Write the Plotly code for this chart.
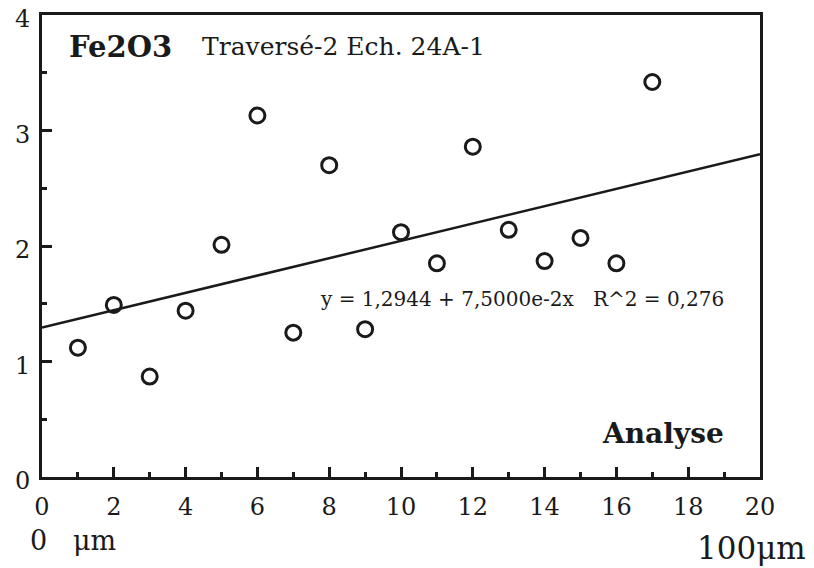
import plotly.graph_objects as go

# Data
x_pos = [1, 2, 3, 4, 5, 6, 7, 8, 9, 10, 11, 12, 13, 14, 15, 16, 17]
fe2o3 = [1.12, 1.49, 0.87, 1.44, 2.01, 3.13, 1.25, 2.70, 1.28, 2.12, 1.85,
         2.86, 2.14, 1.87, 2.07, 1.85, 3.42]

# Regression reported on the chart
intercept = 1.2944
slope = 0.075
r2 = 0.276
fit_x = [0, 20]
fit_y = [intercept + slope * v for v in fit_x]

x_ticks = [0, 2, 4, 6, 8, 10, 12, 14, 16, 18, 20]
y_ticks = [0, 1, 2, 3, 4]

FONT = "DejaVu Serif"
INK = "#1a1a1a"

# the page body adds an 8px offset, so the figure is 8px smaller than the window
OFF = 8
FW, FH = 814 - OFF, 568 - OFF
# plot area in page pixels
L, R, T, B = 42, 760, 15, 477
W, H = R - L, B - T


def px(xp):
    return (xp - L) / W


def py(yp):
    return (B - yp) / H


fig = go.Figure()
fig.add_trace(go.Scatter(x=fit_x, y=fit_y, mode="lines",
                         line=dict(color=INK, width=2.5), showlegend=False,
                         hoverinfo="skip"))
fig.add_trace(go.Scatter(x=x_pos, y=fe2o3, mode="markers",
                         marker=dict(symbol="circle-open", size=15,
                                     color=INK, line=dict(width=3, color=INK)),
                         showlegend=False))

axis_common = dict(showgrid=False, zeroline=False, showline=True, linewidth=3,
                   linecolor=INK, mirror=True, ticks="inside", ticklen=10,
                   tickwidth=2.5, tickcolor=INK, automargin=False,
                   ticklabeloverflow="allow",
                   tickfont=dict(size=24, family=FONT, color=INK))

fig.update_layout(
    width=FW, height=FH,
    margin=dict(l=L - OFF, r=814 - R, t=T - OFF, b=568 - B),
    paper_bgcolor="white", plot_bgcolor="white",
    font=dict(family=FONT, color=INK, size=18),
    xaxis=dict(range=[0, 20], tickvals=x_ticks, ticktext=[str(v) for v in x_ticks],
               minor=dict(dtick=1, ticks="inside", ticklen=5, tickwidth=2.5,
                          tickcolor=INK),
               ticklabelstandoff=6, **axis_common),
    yaxis=dict(range=[0, 4], tickvals=y_ticks, ticktext=[str(v) for v in y_ticks],
               minor=dict(dtick=0.5, ticks="inside", ticklen=5, tickwidth=2.5,
                          tickcolor=INK),
               ticklabelstandoff=4, ticklabelshift=4, **axis_common),
)

eq_text = (f"y = {intercept:.4f}".replace(".", ",") + " + 7,5000e-2x"
           + "&nbsp;&nbsp;&nbsp;R^2 = " + f"{r2:.3f}".replace(".", ","))

fig.add_annotation(xref="paper", yref="paper", x=px(67), y=py(47),
                   text="<b>Fe2O3</b>", showarrow=False, xanchor="left",
                   yanchor="middle", font=dict(size=29, family=FONT))
fig.add_annotation(xref="paper", yref="paper", x=px(200), y=py(47),
                   text="Traversé-2 Ech. 24A-1", showarrow=False,
                   xanchor="left", yanchor="middle", font=dict(size=25, family=FONT))
fig.add_annotation(xref="paper", yref="paper", x=px(318), y=py(299),
                   text=eq_text, showarrow=False, xanchor="left",
                   yanchor="middle", font=dict(size=20, family=FONT))
fig.add_annotation(xref="paper", yref="paper", x=px(726), y=py(433),
                   text="<b>Analyse</b>", showarrow=False, xanchor="right",
                   yanchor="middle", font=dict(size=28, family=FONT))
fig.add_annotation(xref="paper", yref="paper", x=px(28), y=py(540),
                   text="0&nbsp;&nbsp;&nbsp;μm", showarrow=False, xanchor="left",
                   yanchor="middle", font=dict(size=27, family=FONT))
fig.add_annotation(xref="paper", yref="paper", x=px(808), y=py(548),
                   text="100μm", showarrow=False, xanchor="right",
                   yanchor="middle", font=dict(size=31, family=FONT))

fig.write_html("out.html")
